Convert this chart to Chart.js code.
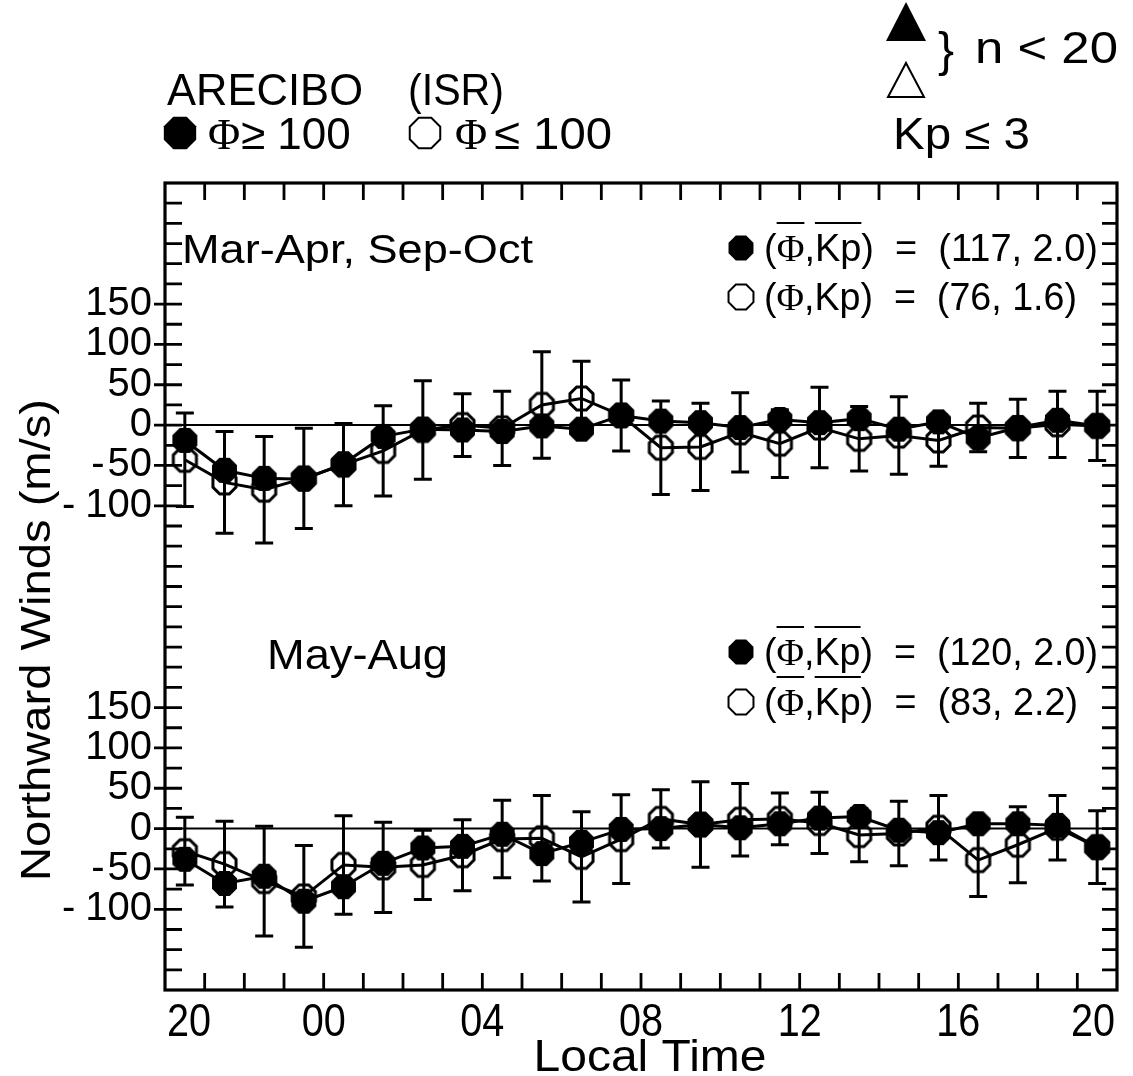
<!DOCTYPE html>
<html>
<head>
<meta charset="utf-8">
<script src="https://cdn.jsdelivr.net/npm/chart.js@4.4.1/dist/chart.umd.min.js"></script>
<style>
  body { margin: 0; background: #fff; }
  #wrap { width: 1133px; height: 1076px; }
</style>
</head>
<body>
<div id="wrap"><canvas id="windChart" width="1133" height="1076"></canvas></div>
<script>
// hourly bin centres, local time, starting at 20:30
const localTime = [20.5, 21.5, 22.5, 23.5, 0.5, 1.5, 2.5, 3.5, 4.5, 5.5, 6.5, 7.5,
                   8.5, 9.5, 10.5, 11.5, 12.5, 13.5, 14.5, 15.5, 16.5, 17.5, 18.5, 19.5];

// Mar-Apr, Sep-Oct (m/s)
const equinoxHigh = [-19, -56, -66, -67, -48, -14, -5, -6, -8, -1, -5, 12,
                     5, 3, -3, 7, 3, 8, -5, 4, -16, -3, 6, -1];
const equinoxLow = [-43, -71, -80, -66, -49, -32, -6, 0, -4, 25, 33, 12,
                    -28, -27, -9, -23, -3, -17, -13, -19, -3, -4, 1, -1];
const equinoxLowSd = [58, 63, 66, 62, 51, 56, 61, 39, 46, 66, 46, 44,
                      58, 54, 49, 42, 50, 40, 48, 32, 30, 36, 41, 43];

// May-Aug (m/s)
const summerHigh = [-38, -68, -59, -90, -72, -43, -24, -22, -7, -31, -17, -1,
                    0, 5, 1, 6, 13, 15, -2, -5, 6, 6, 4, -23];
const summerLow = [-28, -44, -65, -84, -45, -48, -45, -33, -13, -12, -35, -13,
                   12, 5, 11, 12, 7, -8, -6, 1, -39, -20, 1, -23];
const summerLowSd = [42, 53, 68, 63, 61, 56, 43, 44, 48, 53, 56, 55,
                     36, 53, 45, 32, 38, 33, 40, 40, 45, 47, 40, 45];

// axis labels
const hourTicks = [20, 24, 28, 32, 36, 40, 44];
const hourLabels = ['20', '00', '04', '08', '12', '16', '20'];
const windTicks = [150, 100, 50, 0, -50, -100];

const PANEL_SHIFT = 500; // upper panel sits 500 m/s above the lower one

const SANS = '"Liberation Sans", Arial, sans-serif';
const SERIF = '"Liberation Serif", "Times New Roman", serif';

function unwrap(t) {
  return t < 20 ? t + 24 : t;
}

function series(values, shift) {
  return values.map((v, i) => ({ x: unwrap(localTime[i]), y: v + shift }));
}

function octagonPath(ctx, cx, cy, r) {
  ctx.beginPath();
  for (let k = 0; k < 8; k++) {
    const a = Math.PI / 8 + k * Math.PI / 4;
    const px = cx + r * Math.cos(a);
    const py = cy + r * Math.sin(a);
    if (k === 0) ctx.moveTo(px, py); else ctx.lineTo(px, py);
  }
  ctx.closePath();
}

// marker images for the data points
function octagonMarker(r, filled) {
  const c = document.createElement('canvas');
  const s = Math.ceil(2 * r + 6);
  c.width = c.height = s;
  const g = c.getContext('2d');
  octagonPath(g, s / 2, s / 2, r);
  if (filled) {
    g.fillStyle = '#000';
    g.fill();
  } else {
    g.lineWidth = 3;
    g.strokeStyle = '#000';
    g.stroke();
  }
  return c;
}

const filledMark = octagonMarker(13.5, true);
const openMark = octagonMarker(12.5, false);

// text helper, optionally squeezed/stretched to a given width
function text(ctx, str, x, y, size, opts = {}) {
  ctx.save();
  ctx.font = size + 'px ' + (opts.family || SANS);
  ctx.fillStyle = '#000';
  ctx.textBaseline = opts.baseline || 'alphabetic';
  const w = ctx.measureText(str).width;
  const sx = opts.width ? opts.width / w : (opts.sx || 1);
  ctx.translate(x, y);
  if (opts.rotate) ctx.rotate(opts.rotate);
  ctx.scale(sx, 1);
  ctx.textAlign = opts.align || 'left';
  ctx.fillText(str, 0, 0);
  ctx.restore();
}

// "(Φ,Kp) = (117,2.0)" style legend rows with optional overbars
function legendRow(ctx, cx, cy, filled, tail, bars, right) {
  ctx.save();
  octagonPath(ctx, cx, cy, 13.5);
  if (filled) { ctx.fillStyle = '#000'; ctx.fill(); }
  else { ctx.lineWidth = 2; ctx.strokeStyle = '#000'; ctx.stroke(); }
  ctx.restore();

  const size = 38;
  const pieces = [
    { t: '(', f: SANS },
    { t: 'Φ', f: SERIF, bar: true },
    { t: ',', f: SANS },
    { t: 'Kp', f: SANS, bar: true },
    { t: ')  =  ' + tail, f: SANS }
  ];
  const base = cy + 13;
  const start = cx + 23;
  ctx.save();
  let total = 0;
  pieces.forEach((p) => {
    ctx.font = size + 'px ' + p.f;
    p.w = ctx.measureText(p.t).width;
    total += p.w;
  });
  const sx = (right - start) / total;
  ctx.fillStyle = '#000';
  ctx.strokeStyle = '#000';
  ctx.lineWidth = 2;
  let x = start;
  pieces.forEach((p) => {
    ctx.font = size + 'px ' + p.f;
    ctx.save();
    ctx.translate(x, base);
    ctx.scale(sx, 1);
    ctx.fillText(p.t, 0, 0);
    ctx.restore();
    if (bars && p.bar) {
      ctx.beginPath();
      ctx.moveTo(x, base - 38);
      ctx.lineTo(x + p.w * sx, base - 38);
      ctx.stroke();
    }
    x += p.w * sx;
  });
  ctx.restore();
}

// error bars and frame, ticks, labels
const decorations = {
  id: 'decorations',
  beforeDatasetsDraw(chart) {
    const ctx = chart.ctx;
    const xs = chart.scales.x;
    const ys = chart.scales.y;
    ctx.save();
    ctx.strokeStyle = '#000';
    ctx.lineWidth = 3;
    [[equinoxLow, equinoxLowSd, PANEL_SHIFT], [summerLow, summerLowSd, 0]].forEach(([vals, sd, shift]) => {
      vals.forEach((v, i) => {
        const px = xs.getPixelForValue(unwrap(localTime[i]));
        const top = ys.getPixelForValue(v + sd[i] + shift);
        const bot = ys.getPixelForValue(v - sd[i] + shift);
        ctx.beginPath();
        ctx.moveTo(px, top); ctx.lineTo(px, bot);
        ctx.moveTo(px - 9, top); ctx.lineTo(px + 9, top);
        ctx.moveTo(px - 9, bot); ctx.lineTo(px + 9, bot);
        ctx.stroke();
      });
    });
    ctx.restore();
  },
  afterDraw(chart) {
    const ctx = chart.ctx;
    const a = chart.chartArea;
    const xs = chart.scales.x;
    const ys = chart.scales.y;

    ctx.save();
    ctx.strokeStyle = '#000';
    ctx.lineWidth = 3.2;
    ctx.strokeRect(a.left, a.top, a.right - a.left, a.bottom - a.top);

    // hour ticks, top and bottom, pointing inward
    ctx.lineWidth = 2.8;
    ctx.beginPath();
    for (let h = 21; h < 44; h++) {
      const px = xs.getPixelForValue(h);
      ctx.moveTo(px, a.bottom); ctx.lineTo(px, a.bottom - 17);
      ctx.moveTo(px, a.top); ctx.lineTo(px, a.top + 17);
    }
    // wind ticks every 25 m/s, left and right
    const labelled = [];
    windTicks.forEach((v) => { labelled.push(v, v + PANEL_SHIFT); });
    for (let v = -175; v < 800; v += 25) {
      const py = ys.getPixelForValue(v);
      const out = labelled.includes(v) ? 11 : 0;
      ctx.moveTo(a.left - out, py); ctx.lineTo(a.left + 17, py);
      ctx.moveTo(a.right, py); ctx.lineTo(a.right - 15, py);
    }
    ctx.stroke();
    ctx.restore();

    // wind tick labels for both panels, minus sign set a little apart
    [0, PANEL_SHIFT].forEach((shift) => {
      windTicks.forEach((v) => {
        const py = ys.getPixelForValue(v + shift);
        const digits = String(Math.abs(v));
        text(ctx, digits, a.left - 13, py, 40, { align: 'right', baseline: 'middle' });
        if (v < 0) {
          ctx.save();
          ctx.font = '40px ' + SANS;
          const w = ctx.measureText(digits).width;
          ctx.restore();
          text(ctx, '-', a.left - 13 - w - (v <= -100 ? 10 : 3), py, 40,
            { align: 'right', baseline: 'middle' });
        }
      });
    });

    // hour labels
    hourTicks.forEach((h, i) => {
      let px = xs.getPixelForValue(h);
      let align = 'center';
      if (i === 0) { px = a.left + 2; align = 'left'; }
      if (i === hourTicks.length - 1) { px = a.right - 2; align = 'right'; }
      text(ctx, hourLabels[i], px, 1036, 46, { align: align, sx: 0.86 });
    });
    text(ctx, 'Local Time', 650, 1071, 44, { align: 'center', width: 233 });
    text(ctx, 'Northward Winds (m/s)', 50, 640, 42,
      { align: 'center', rotate: -Math.PI / 2, width: 482 });

    // panel titles and legends
    text(ctx, 'Mar-Apr, Sep-Oct', 182, 263, 40, { width: 351 });
    text(ctx, 'May-Aug', 267, 669, 42, { width: 181 });
    legendRow(ctx, 741, 248, true, '(117, 2.0)', true, 1098);
    legendRow(ctx, 741, 297, false, '(76, 1.6)', false, 1077);
    legendRow(ctx, 741, 652, true, '(120, 2.0)', true, 1098);
    legendRow(ctx, 741, 702, false, '(83, 2.2)', true, 1078);

    // header
    text(ctx, 'ARECIBO', 167, 105, 44, { width: 196 });
    text(ctx, '(ISR)', 408, 105, 44, { width: 96 });

    ctx.save();
    octagonPath(ctx, 180, 133, 17.5);
    ctx.fillStyle = '#000';
    ctx.fill();
    octagonPath(ctx, 425, 133, 16.5);
    ctx.lineWidth = 2;
    ctx.strokeStyle = '#000';
    ctx.stroke();
    ctx.restore();
    text(ctx, 'Φ', 208, 149, 44, { family: SERIF });
    text(ctx, '≥ 100', 241, 149, 44);
    text(ctx, 'Φ', 455, 149, 44, { family: SERIF });
    text(ctx, '≤ 100', 494, 149, 44, { width: 118 });

    ctx.save();
    ctx.beginPath();
    ctx.moveTo(906, 2); ctx.lineTo(926, 41); ctx.lineTo(886, 41); ctx.closePath();
    ctx.fillStyle = '#000';
    ctx.fill();
    ctx.beginPath();
    ctx.moveTo(906, 63); ctx.lineTo(924, 97); ctx.lineTo(888, 97); ctx.closePath();
    ctx.lineWidth = 2;
    ctx.stroke();
    ctx.restore();
    text(ctx, '}', 938, 66, 48);
    text(ctx, 'n < 20', 975, 63, 44, { width: 143 });
    text(ctx, 'Kp ≤ 3', 893, 149, 44, { width: 137 });
  }
};

function dataset(values, shift, filled) {
  return {
    data: series(values, shift),
    showLine: true,
    borderColor: '#000',
    borderWidth: 3,
    pointStyle: filled ? filledMark : openMark,
    pointRadius: 13,
    pointHoverRadius: 13
  };
}

function zeroLine(shift) {
  return {
    data: [{ x: 20, y: shift }, { x: 44, y: shift }],
    showLine: true,
    borderColor: '#000',
    borderWidth: 2,
    pointRadius: 0
  };
}

new Chart(document.getElementById('windChart'), {
  type: 'scatter',
  data: {
    datasets: [
      dataset(equinoxHigh, PANEL_SHIFT, true),
      dataset(summerHigh, 0, true),
      dataset(equinoxLow, PANEL_SHIFT, false),
      dataset(summerLow, 0, false),
      zeroLine(PANEL_SHIFT),
      zeroLine(0)
    ]
  },
  options: {
    responsive: false,
    animation: false,
    layout: { padding: { left: 165, top: 183, right: 3, bottom: 86 } },
    plugins: {
      legend: { display: false },
      tooltip: { enabled: false }
    },
    scales: {
      x: { type: 'linear', min: 20, max: 44, display: false },
      y: { type: 'linear', min: -200, max: 800, display: false }
    }
  },
  plugins: [decorations]
});
</script>
</body>
</html>
